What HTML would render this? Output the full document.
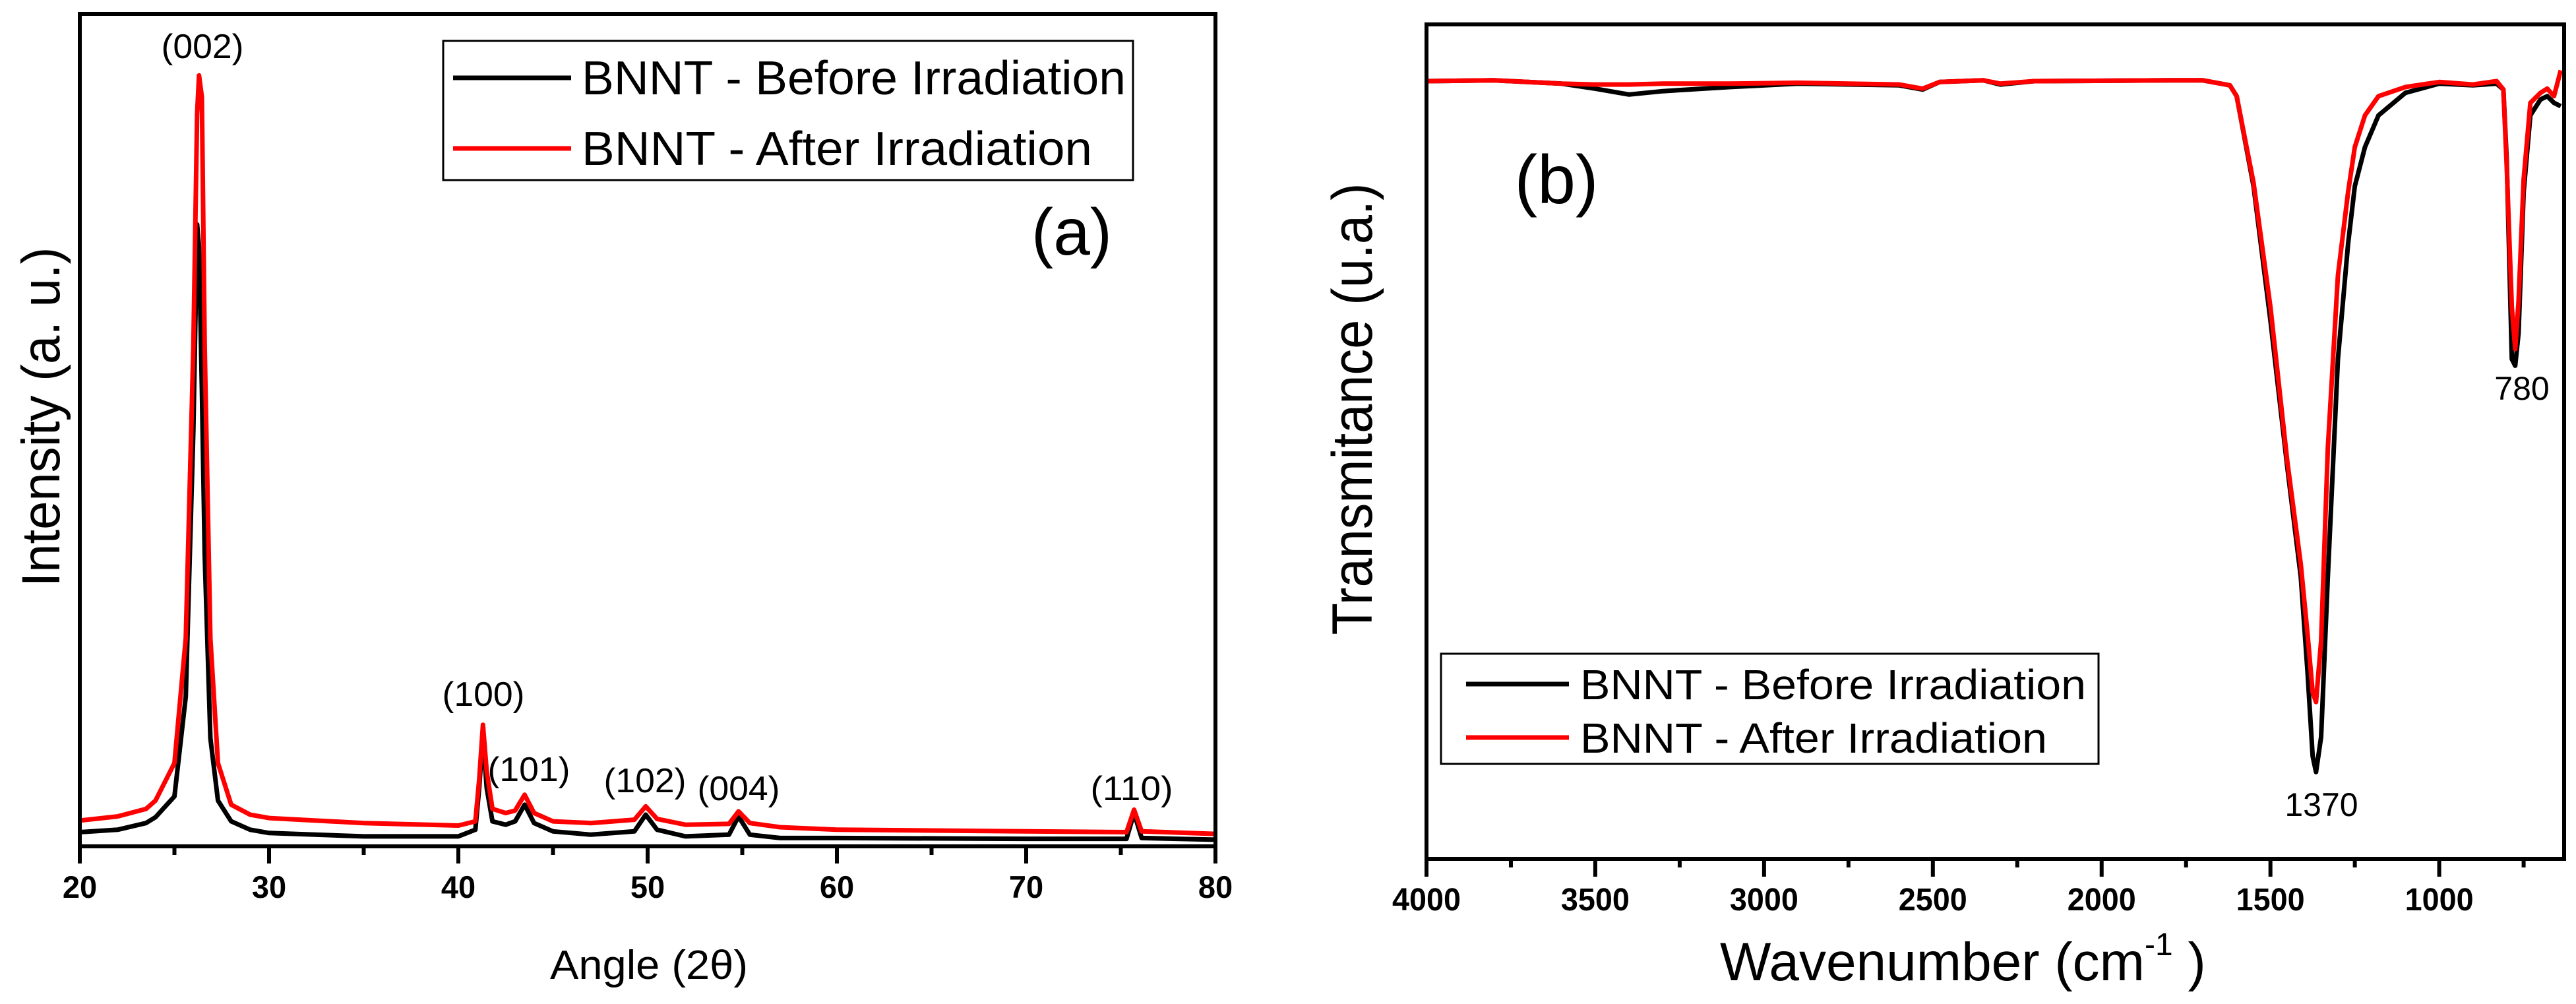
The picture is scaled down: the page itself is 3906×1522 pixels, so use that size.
<!DOCTYPE html>
<html><head><meta charset="utf-8"><style>
html,body{margin:0;padding:0;background:#fff;}
svg{display:block;font-family:"Liberation Sans",sans-serif;}
</style></head><body>
<svg id="fig" width="3906" height="1522" viewBox="0 0 3906 1522" xmlns="http://www.w3.org/2000/svg">
<rect width="3906" height="1522" fill="#fff"/>
<g id="pa"></g>
<g id="pb"></g>
</svg>
<script>
// Panel (a) XRD data: angle (2θ) and relative intensity (% of plot height)
const xrdAngle = [20,22,23.5,24,25,25.6,26.0,26.2,26.3,26.45,26.6,26.9,27.3,28,29,30,35,40,40.9,41.1,41.3,41.5,41.8,42.5,43.0,43.5,44,45,47,49.3,49.9,50.5,52,54.3,54.8,55.4,57,60,70,75.3,75.7,76.1,80];
const xrdAfter = [3.1,3.6,4.5,5.5,10,25,60,88,92.6,90,60,25,10,5,3.8,3.4,2.8,2.5,3,8,14.6,9,4.5,4,4.3,6.2,4,3,2.8,3.2,4.8,3.3,2.6,2.7,4.2,2.8,2.3,2.0,1.8,1.7,4.4,1.8,1.5];
const xrdBefore = [1.7,2,2.8,3.5,6,18,50,74.7,72,55,35,13,5.5,3,2,1.6,1.2,1.2,2,7,13.5,7,3,2.6,3,5,2.8,1.8,1.4,1.8,3.8,2,1.2,1.4,3.6,1.4,1,1,0.9,0.9,4,1,0.8];
const xrdTicks = [20,30,40,50,60,70,80];
const xrdPeakLabels = ["(002)","(100)","(101)","(102)","(004)","(110)"];

// Panel (b) FTIR data: wavenumber and transmittance (% of plot height)
const ftirWaveBefore = [4000,3800,3600,3500,3400,3300,3100,2900,2600,2530,2480,2350,2300,2200,1800,1700,1620,1600,1550,1500,1450,1410,1390,1375,1365,1350,1330,1300,1270,1250,1220,1180,1100,1000,900,830,810,800,785,775,765,750,730,700,680,660,640];
const ftirBefore = [93.2,93.3,92.9,92.3,91.6,92.0,92.5,92.9,92.7,92.2,93.1,93.3,92.8,93.2,93.3,93.3,92.7,91.4,80.6,64.5,46.9,33.8,22.3,12.3,10.4,14.6,33.8,59.9,73.7,80.6,85.3,89.1,91.8,92.9,92.7,92.9,92.2,83.7,59.9,59.1,63,79.9,89.1,91.0,91.4,90.6,90.2];
const ftirAfter = [93.2,93.3,92.9,92.8,92.8,92.9,92.9,93.0,92.8,92.3,93.1,93.3,92.9,93.2,93.3,93.3,92.7,91.4,81.0,66.1,47.6,35.3,26.9,19.97,18.8,26.1,49.2,69.9,79.9,85.3,89.1,91.4,92.5,93.1,92.8,93.2,92.2,82.9,66.1,61.1,66.8,81.4,90.6,91.8,92.3,91.4,94.5];
const ftirTicks = [4000,3500,3000,2500,2000,1500,1000];

const NS="http://www.w3.org/2000/svg";
function mk(parent,tag,attrs,text){const e=document.createElementNS(NS,tag);for(const k in attrs)e.setAttribute(k,attrs[k]);if(text!==undefined)e.textContent=text;parent.appendChild(e);return e;}

// ---------- Panel A ----------
const A={l:121,r:1843,t:21,b:1283,x0:20,x1:80};
function xA(v){return A.l+(v-A.x0)/(A.x1-A.x0)*(A.r-A.l);}
function yA(p){return A.b-p/100*(A.b-A.t);}
const pa=document.getElementById('pa');
function series(g,xs,ys,fx,fy,color,name){
  const pts=xs.map((x,i)=>fx(x).toFixed(1)+","+fy(ys[i]).toFixed(1)).join(" ");
  const pl=mk(g,'polyline',{points:pts,fill:'none',stroke:color,'stroke-width':7,'stroke-linejoin':'round'});
  
  
}
series(pa,xrdAngle,xrdBefore,xA,yA,'#000','series-before-irradiation');
series(pa,xrdAngle,xrdAfter,xA,yA,'#f00','series-after-irradiation');
let fr=mk(pa,'rect',{x:A.l,y:A.t,width:A.r-A.l,height:A.b-A.t,fill:'none',stroke:'#000','stroke-width':6});


for(let v=20;v<=80;v+=5){
  const major=v%10===0;
  const t=mk(pa,'line',{x1:xA(v),x2:xA(v),y1:A.b,y2:A.b+(major?26:13),stroke:'#000','stroke-width':6});
  
  
}
xrdTicks.forEach(v=>{
  const t=mk(pa,'text',{x:xA(v),y:1361,'text-anchor':'middle','font-size':47,'font-weight':'bold'},String(v));
  
  
});
const peakPos=[[307,88],[733,1070],[802,1184],[978,1201],[1120,1213],[1716,1213]];
xrdPeakLabels.forEach((s,i)=>{
  const t=mk(pa,'text',{x:peakPos[i][0],y:peakPos[i][1],'text-anchor':'middle','font-size':52,textLength:125,lengthAdjust:'spacingAndGlyphs'},s);
  
  
});
let tt=mk(pa,'text',{x:984,y:1484,'text-anchor':'middle','font-size':62,textLength:300,lengthAdjust:'spacingAndGlyphs'},'Angle (2θ)');


tt=mk(pa,'text',{x:0,y:0,'text-anchor':'middle','font-size':82,textLength:515,lengthAdjust:'spacingAndGlyphs',transform:'translate(90,632) rotate(-90)'},'Intensity (a. u.)');


tt=mk(pa,'text',{x:1625,y:386,'text-anchor':'middle','font-size':100},'(a)');


const lgA=mk(pa,'g',{});


mk(lgA,'rect',{x:672,y:62,width:1046,height:211,fill:'#fff',stroke:'#000','stroke-width':3});
mk(lgA,'line',{x1:687,x2:866,y1:118,y2:118,stroke:'#000','stroke-width':7});
mk(lgA,'line',{x1:687,x2:866,y1:225,y2:225,stroke:'#f00','stroke-width':7});
let le=mk(lgA,'text',{x:882,y:143,'font-size':72,textLength:825,lengthAdjust:'spacingAndGlyphs'},'BNNT - Before Irradiation');


le=mk(lgA,'text',{x:882,y:250,'font-size':72,textLength:774,lengthAdjust:'spacingAndGlyphs'},'BNNT - After Irradiation');



// ---------- Panel B ----------
const B={l:2163,r:3888,t:37,b:1302,x0:4000,x1:630};
function xB(w){return B.l+(B.x0-w)/(B.x0-B.x1)*(B.r-B.l);}
function yB(p){return B.b-p/100*(B.b-B.t);}
const pb=document.getElementById('pb');
series(pb,ftirWaveBefore,ftirBefore,xB,yB,'#000','ftir-series-before');
series(pb,ftirWaveBefore,ftirAfter,xB,yB,'#f00','ftir-series-after');
fr=mk(pb,'rect',{x:B.l,y:B.t,width:B.r-B.l,height:B.b-B.t,fill:'none',stroke:'#000','stroke-width':6});


for(let w=4000;w>=750;w-=250){
  const major=w%500===0;
  const t=mk(pb,'line',{x1:xB(w),x2:xB(w),y1:B.b,y2:B.b+(major?27:13),stroke:'#000','stroke-width':6});
  
  
}
ftirTicks.forEach(v=>{
  const t=mk(pb,'text',{x:xB(v),y:1380,'text-anchor':'middle','font-size':48,'font-weight':'bold',textLength:104,lengthAdjust:'spacingAndGlyphs'},String(v));
  
  
});
tt=mk(pb,'text',{x:3520,y:1237,'text-anchor':'middle','font-size':50},'1370');


tt=mk(pb,'text',{x:3824,y:606,'text-anchor':'middle','font-size':50},'780');


tt=mk(pb,'text',{x:2608,y:1486,'font-size':82},'Wavenumber (cm');


mk(tt,'tspan',{dy:-38,'font-size':48},'-1');
mk(tt,'tspan',{dy:38,'font-size':82},' )');
tt=mk(pb,'text',{x:0,y:0,'text-anchor':'middle','font-size':86,textLength:685,lengthAdjust:'spacingAndGlyphs',transform:'translate(2080,620) rotate(-90)'},'Transmitance (u.a.)');


tt=mk(pb,'text',{x:2360,y:308,'text-anchor':'middle','font-size':104},'(b)');


const lgB=mk(pb,'g',{});


mk(lgB,'rect',{x:2185,y:991,width:997,height:167,fill:'#fff',stroke:'#000','stroke-width':3});
mk(lgB,'line',{x1:2223,x2:2379,y1:1037,y2:1037,stroke:'#000','stroke-width':7});
mk(lgB,'line',{x1:2223,x2:2379,y1:1118,y2:1118,stroke:'#f00','stroke-width':7});
le=mk(lgB,'text',{x:2396,y:1060,'font-size':64,textLength:767,lengthAdjust:'spacingAndGlyphs'},'BNNT - Before Irradiation');


le=mk(lgB,'text',{x:2396,y:1141,'font-size':64,textLength:708,lengthAdjust:'spacingAndGlyphs'},'BNNT - After Irradiation');


</script>
</body></html>
